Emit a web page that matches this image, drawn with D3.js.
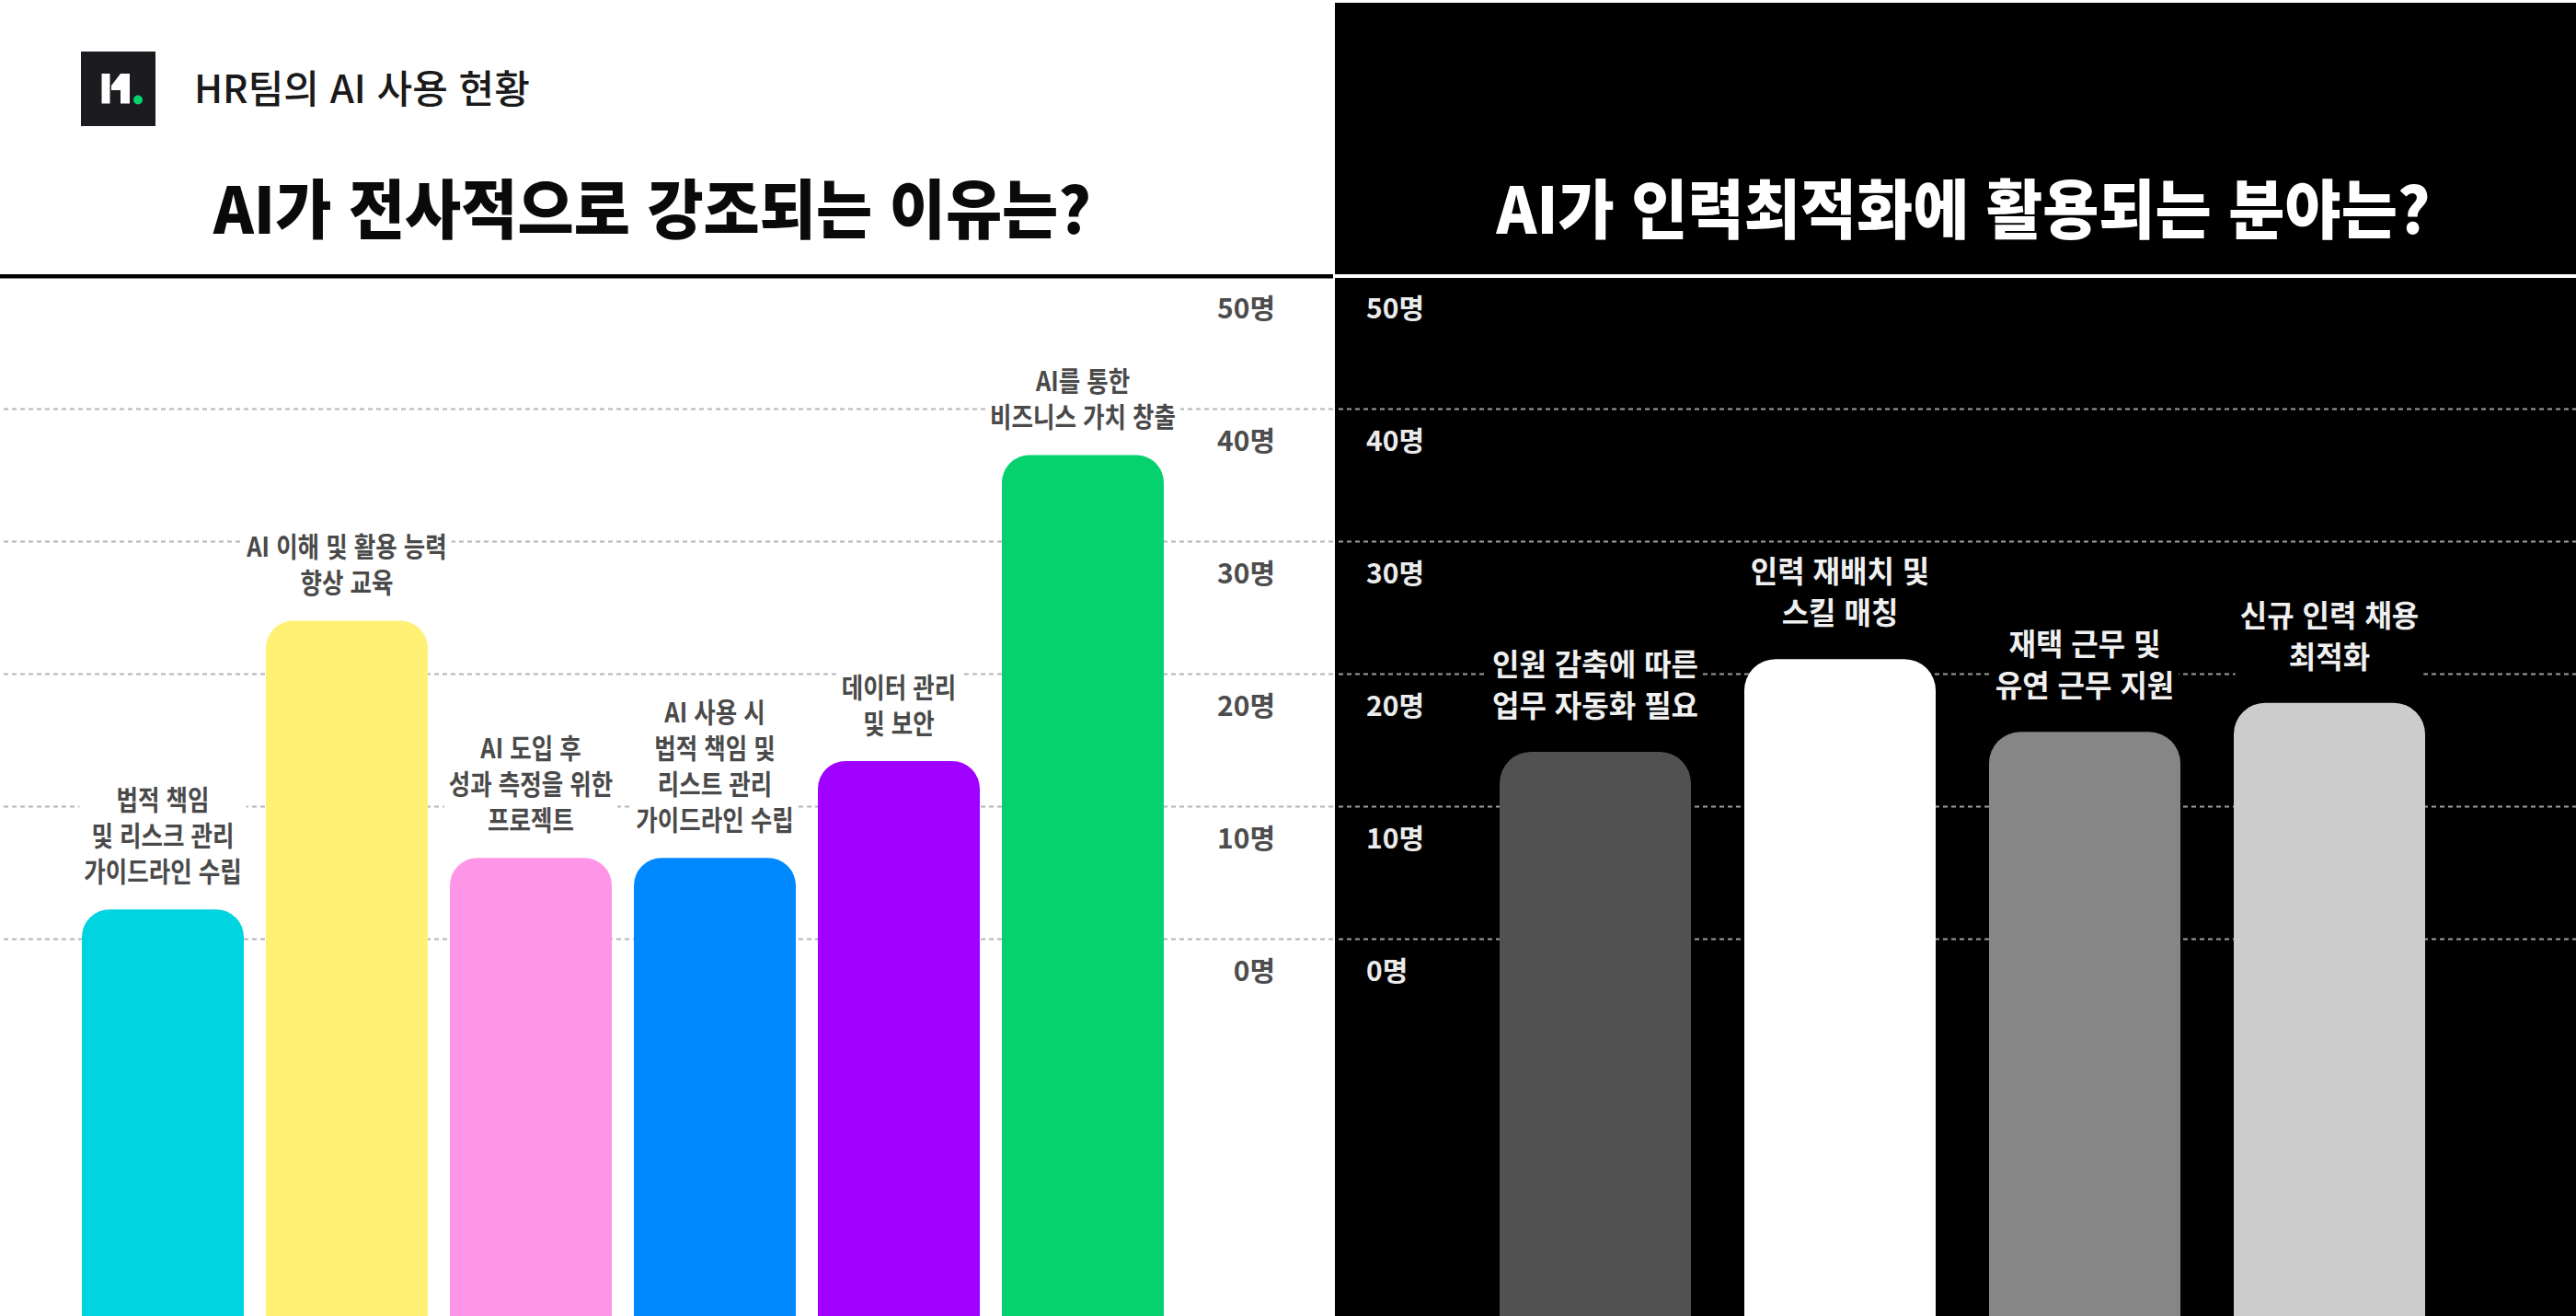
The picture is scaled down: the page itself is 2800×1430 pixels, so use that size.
<!DOCTYPE html>
<html lang="ko">
<head>
<meta charset="utf-8">
<script src="https://cdn.jsdelivr.net/npm/d3@7"></script>
<style>
  html, body { margin: 0; padding: 0; background: #ffffff; }
  svg { display: block; }
  text { font-family: "Noto Sans CJK KR", "Noto Sans", sans-serif; }
</style>
</head>
<body>
<script>
// ---------------- DATA ----------------
const headerText = "HR팀의 AI 사용 현황";
const leftTitle = "AI가 전사적으로 강조되는 이유는?";
const rightTitle = "AI가 인력최적화에 활용되는 분야는?";

const leftCategories = [
  "법적 책임\n및 리스크 관리\n가이드라인 수립",
  "AI 이해 및 활용 능력\n향상 교육",
  "AI 도입 후\n성과 측정을 위한\n프로젝트",
  "AI 사용 시\n법적 책임 및\n리스트 관리\n가이드라인 수립",
  "데이터 관리\n및 보안",
  "AI를 통한\n비즈니스 가치 창출"
];
const leftValues = [2.2, 24, 6.1, 6.1, 13.4, 36.5];
const leftColors = ["#00d4e0", "#fff173", "#ff95e6", "#0088ff", "#a000ff", "#05d26e"];

const rightCategories = [
  "인원 감축에 따른\n업무 자동화 필요",
  "인력 재배치 및\n스킬 매칭",
  "재택 근무 및\n유연 근무 지원",
  "신규 인력 채용\n최적화"
];
const rightValues = [14.1, 21.1, 15.6, 17.8];
const rightColors = ["#515151", "#ffffff", "#868686", "#cccccc"];

const yTicks = [0, 10, 20, 30, 40, 50];
const tickUnit = "명";

// ---------------- LAYOUT ----------------
const W = 2800, H = 1430;
const splitX = 1451;

const svg = d3.select("body").append("svg")
  .attr("width", W).attr("height", H)
  .attr("viewBox", `0 0 ${W} ${H}`);

// backgrounds
svg.append("rect").attr("x", 0).attr("y", 0).attr("width", W).attr("height", H).attr("fill", "#ffffff");
svg.append("rect").attr("x", splitX).attr("y", 3).attr("width", W - splitX).attr("height", H - 3).attr("fill", "#000000");

// scales
const y = d3.scaleLinear().domain([0, 50]).range([1020, 300]);
const xL = d3.scaleBand().domain(leftCategories).range([89, 1265]).paddingInner(0.12).paddingOuter(0);
const xR = d3.scaleBand().domain(rightCategories).range([1630, 2636]).paddingInner(0.218).paddingOuter(0);

// header divider lines at the top value of the scale
svg.append("rect").attr("x", 0).attr("y", y(50) - 2).attr("width", splitX - 2).attr("height", 4.5).attr("fill", "#000000");
svg.append("rect").attr("x", splitX).attr("y", y(50) - 2).attr("width", W - splitX).attr("height", 4).attr("fill", "#ffffff");

// ---------------- AXES / GRID ----------------
const fmt = d => d + tickUnit;

const gL = svg.append("g").attr("transform", `translate(${splitX - 2},0)`)
  .call(d3.axisLeft(y).tickValues(yTicks).tickSize(splitX - 2).tickFormat(fmt));
gL.select(".domain").remove();
gL.attr("font-family", null).attr("font-size", null);
gL.selectAll(".tick line")
  .attr("stroke", "#b5b5b5").attr("stroke-width", 2).attr("stroke-dasharray", "5,4")
  .filter(d => d === 50).remove();
gL.selectAll(".tick text")
  .attr("x", 1386 - (splitX - 2)).attr("y", 45).attr("dy", null)
  .attr("text-anchor", "end")
  .attr("fill", "#4d4d4d").attr("font-size", 30).attr("font-weight", 700)
  .style("font-family", "'Noto Sans CJK KR', 'Noto Sans', sans-serif");

const gR = svg.append("g").attr("transform", `translate(${splitX + 4},0)`)
  .call(d3.axisRight(y).tickValues(yTicks).tickSize(W - splitX - 4).tickFormat(fmt));
gR.select(".domain").remove();
gR.attr("font-family", null).attr("font-size", null);
gR.selectAll(".tick line")
  .attr("stroke", "#9e9e9e").attr("stroke-width", 2).attr("stroke-dasharray", "5,4")
  .filter(d => d === 50).remove();
gR.selectAll(".tick text")
  .attr("x", 1485 - (splitX + 4)).attr("y", 45).attr("dy", null)
  .attr("text-anchor", "start")
  .attr("fill", "#ebebeb").attr("font-size", 30).attr("font-weight", 700)
  .style("font-family", "'Noto Sans CJK KR', 'Noto Sans', sans-serif");

// ---------------- BARS ----------------
function drawBars(cats, vals, colors, x, r) {
  svg.append("g").selectAll("rect")
    .data(cats.map((c, i) => ({ c, v: vals[i], col: colors[i] })))
    .join("rect")
    .attr("x", d => x(d.c))
    .attr("y", d => y(d.v))
    .attr("width", x.bandwidth())
    .attr("height", d => H - y(d.v) + r * 2)
    .attr("rx", r).attr("ry", r)
    .attr("fill", d => d.col);
}
drawBars(leftCategories, leftValues, leftColors, xL, 30);
drawBars(rightCategories, rightValues, rightColors, xR, 34);

// ---------------- BAR LABELS ----------------
function drawLabels(cats, vals, x, o) {
  const g = svg.append("g");
  cats.forEach((c, i) => {
    const lines = c.split("\n");
    const base = y(vals[i]) - o.gap;
    const outer = g.append("g").attr("transform", `translate(${x(c) + x.bandwidth() / 2},${base})`);
    const inner = outer.append("g").attr("transform", `scale(${o.sx},1)`);
    const t = inner.append("text")
      .attr("text-anchor", "middle")
      .attr("font-size", o.size)
      .attr("font-weight", o.weight)
      .attr("fill", o.color);
    lines.forEach((l, j) => {
      t.append("tspan").attr("x", 0).attr("y", -(lines.length - 1 - j) * o.lh).text(l);
    });
    const bb = t.node().getBBox();
    inner.insert("rect", "text")
      .attr("x", bb.x - 5 / o.sx).attr("y", bb.y - 2)
      .attr("width", bb.width + 10 / o.sx).attr("height", bb.height + 4)
      .attr("fill", o.bg);
  });
}
drawLabels(leftCategories, leftValues, xL, { gap: 30, lh: 39, size: 30, sx: 0.85, weight: 700, color: "#4a4a4a", bg: "#ffffff" });
drawLabels(rightCategories, rightValues, xR, { gap: 38, lh: 45, size: 33, sx: 0.97, weight: 700, color: "#f0f0f0", bg: "#000000" });

// ---------------- HEADER ----------------
// logo
const logo = svg.append("g");
logo.append("rect").attr("x", 88).attr("y", 56).attr("width", 81).attr("height", 81).attr("fill", "#1c1b1f");
logo.append("rect").attr("x", 110.5).attr("y", 80).attr("width", 9).attr("height", 32.5).attr("fill", "#ffffff");
logo.append("polygon")
  .attr("points", "121,93 131,80 141,80 141,112.5 131,112.5 131,98 121,98")
  .attr("fill", "#ffffff");
logo.append("circle").attr("cx", 150).attr("cy", 108.5).attr("r", 5).attr("fill", "#06d26e");

svg.append("text")
  .attr("x", 211).attr("y", 112)
  .attr("font-size", 42).attr("font-weight", 500).attr("fill", "#1a1a1a")
  .text(headerText);

// titles
function drawTitle(cx, txt, color) {
  svg.append("g").attr("transform", `translate(${cx},254)`)
    .append("g").attr("transform", "scale(0.95,1)")
    .append("text")
    .attr("text-anchor", "middle")
    .attr("font-size", 70).attr("font-weight", 900).attr("fill", color)
    .text(txt);
}
drawTitle(709, leftTitle, "#0a0a0a");
drawTitle(2134, rightTitle, "#ffffff");
</script>
</body>
</html>
